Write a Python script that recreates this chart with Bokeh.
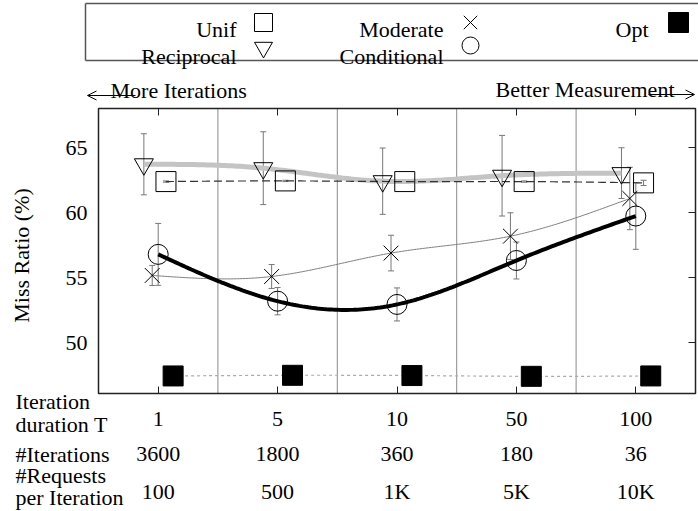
import numpy as np
from bokeh.plotting import figure
from bokeh.models import (Range1d, FixedTicker, LinearAxis, Label, Arrow, OpenHead,
                          Whisker, TeeHead, ColumnDataSource)
from bokeh.embed import file_html
from bokeh.resources import INLINE

# ---------------- data ----------------
x_pos = [1, 2, 3, 4, 5]
t_labels = ["1", "5", "10", "50", "100"]
iter_labels = ["3600", "1800", "360", "180", "36"]
req_labels = ["100", "500", "1K", "5K", "10K"]
y_ticks = [50, 55, 60, 65]

unif = [62.40, 62.45, 62.40, 62.40, 62.30]
unif_err = [0.05, 0.05, 0.05, 0.05, 0.20]
recip = [63.73, 63.43, 62.43, 62.85, 63.05]
recip_err = [2.35, 2.80, 2.55, 3.10, 1.95]
moder = [55.18, 55.10, 56.90, 58.20, 61.10]
moder_err = [0.77, 0.92, 1.37, 1.80, 2.40]
cond = [56.80, 53.20, 52.95, 56.33, 59.75]
cond_err = [2.38, 1.05, 1.27, 1.42, 2.56]
opt = [47.45, 47.50, 47.48, 47.42, 47.45]
opt_err = [0.05, 0.05, 0.05, 0.05, 0.05]

FONT = "Liberation Serif"
FS = "22px"

# plot-box extent in data units and its place on the page (pixels)
X0, X1 = 0.5, 5.5
Y0, Y1 = 46.1, 68.02
BOX_L, BOX_R, BOX_T, BOX_B = 98, 695, 108, 393
W, H = 698, 510            # canvas, placed at page (0, 0)
XPP = (X1 - X0) / (BOX_R - BOX_L)
YPP = (Y1 - Y0) / (BOX_B - BOX_T)


def gx(px):
    return X0 + (px - BOX_L) * XPP


def gy(py):
    return Y1 - (py - BOX_T) * YPP


def nat_spline(x, y, n=160):
    x = np.asarray(x, float)
    y = np.asarray(y, float)
    k = len(x)
    h = np.diff(x)
    A = np.zeros((k, k))
    b = np.zeros(k)
    A[0, 0] = A[-1, -1] = 1
    for i in range(1, k - 1):
        A[i, i - 1] = h[i - 1]
        A[i, i] = 2 * (h[i - 1] + h[i])
        A[i, i + 1] = h[i]
        b[i] = 6 * ((y[i + 1] - y[i]) / h[i] - (y[i] - y[i - 1]) / h[i - 1])
    M = np.linalg.solve(A, b)
    xs = np.linspace(x[0], x[-1], n)
    idx = np.clip(np.searchsorted(x, xs) - 1, 0, k - 2)
    x0 = x[idx]
    x1 = x[idx + 1]
    hh = x1 - x0
    t0 = x1 - xs
    t1 = xs - x0
    ys = (M[idx] * t0 ** 3 / (6 * hh) + M[idx + 1] * t1 ** 3 / (6 * hh)
          + (y[idx] / hh - M[idx] * hh / 6) * t0
          + (y[idx + 1] / hh - M[idx + 1] * hh / 6) * t1)
    return xs, ys


p = figure(width=W, height=H,
           x_range=Range1d(gx(0), gx(W)), y_range=Range1d(gy(H), gy(0)),
           min_border=0, toolbar_location=None, output_backend="svg",
           x_axis_location=None, y_axis_location=None)
p.outline_line_color = None
p.grid.visible = False

# ---------------- axes (fixed on the plot box) ----------------
bottom_ax = LinearAxis(fixed_location=Y0, ticker=FixedTicker(ticks=x_pos),
                       major_label_overrides={x: t for x, t in zip(x_pos, t_labels)},
                       axis_line_color=None, major_tick_in=7, major_tick_out=0,
                       minor_tick_line_color=None, major_tick_line_color="#222222",
                       major_label_text_font=FONT, major_label_text_font_size=FS,
                       major_label_text_color="black", major_label_standoff=18)
p.add_layout(bottom_ax, "below")

left_ax = LinearAxis(fixed_location=X0, ticker=FixedTicker(ticks=y_ticks),
                     axis_line_color=None, major_tick_in=0, major_tick_out=0,
                     minor_tick_line_color=None,
                     major_label_text_font=FONT, major_label_text_font_size=FS,
                     major_label_text_color="black", major_label_standoff=11,
                     axis_label="Miss Ratio (%)", axis_label_text_font=FONT,
                     axis_label_text_font_size=FS, axis_label_text_font_style="normal",
                     axis_label_text_color="black", axis_label_standoff=29)
p.add_layout(left_ax, "left")

top_ax = LinearAxis(fixed_location=Y1, ticker=FixedTicker(ticks=x_pos),
                    major_label_text_color=None, major_label_standoff=0,
                    major_tick_in=7, major_tick_out=0, minor_tick_line_color=None,
                    axis_line_color=None, major_tick_line_color="#222222")
p.add_layout(top_ax, "above")

right_ax = LinearAxis(fixed_location=X1, ticker=FixedTicker(ticks=y_ticks),
                      major_label_text_color=None, major_label_standoff=0,
                      major_tick_in=7, major_tick_out=0, minor_tick_line_color=None,
                      axis_line_color=None, major_tick_line_color="#222222")
p.add_layout(right_ax, "right")

# vertical separators between categories
mids = [(a + b) / 2 for a, b in zip(x_pos[:-1], x_pos[1:])]
p.segment(x0=mids, y0=[Y0] * len(mids), x1=mids, y1=[Y1] * len(mids),
          line_color="#8a8a8a", line_width=1)

# ---------------- series ----------------
styles = [
    # values, errors, x offset, marker, fill, size, line colour, width, dash
    (recip, recip_err, -0.12, "inverted_triangle", None, 19, "#c4c4c4", 5, "solid"),
    (unif, unif_err, 0.065, "square", None, 20, "#333333", 1.2, "8 4"),
    (moder, moder_err, -0.05, "x", None, 21, "#808080", 1, "solid"),
    (cond, cond_err, 0.0, "circle", None, 20, "#000000", 4, "solid"),
    (opt, opt_err, 0.125, "square", "black", 20, "#aaaaaa", 1.2, "3 3"),
]

for vals, errs, off, mk, fc, ms, lc, lw, dash in styles:
    xs = np.array(x_pos, float) + off
    sx, sy = nat_spline(xs, vals)
    p.line(sx, sy, line_color=lc, line_width=lw, line_dash=dash)

for vals, errs, off, mk, fc, ms, lc, lw, dash in styles:
    xs = np.array(x_pos, float) + off
    v = np.array(vals)
    e = np.array(errs)
    src = ColumnDataSource(dict(x=xs, lower=v - e, upper=v + e))
    p.add_layout(Whisker(source=src, base="x", lower="lower", upper="upper",
                         dimension="height", line_color="#777777", line_width=1,
                         upper_head=TeeHead(size=6, line_color="#777777", line_width=1),
                         lower_head=TeeHead(size=6, line_color="#777777", line_width=1)))
    p.scatter(xs, vals, marker=mk, size=ms, fill_color=fc, line_color="black",
              line_width=1)

# plot box
p.quad(left=[X0], right=[X1], bottom=[Y0], top=[Y1], fill_color=None,
       line_color="#222222", line_width=1.5)

# ---------------- legend (above the box) ----------------
p.multi_line(xs=[[gx(85), gx(698)], [gx(85), gx(698)], [gx(85), gx(85)]],
             ys=[[gy(3), gy(3)], [gy(60), gy(60)], [gy(3), gy(60)]],
             line_color="#555555", line_width=1.5)

series_names = ["Unif", "Reciprocal", "Moderate", "Conditional", "Opt"]
markers = ["square", "inverted_triangle", "x", "circle", "square"]
fills = [None, None, None, None, "black"]
text_right = [236, 236, 443, 443, 648]
mark_x = [263, 263, 470, 470, 678]
text_base = [29, 56, 29, 56, 29]
mark_y = [22, 47, 22, 45, 22]
mark_size = [18, 18, 19, 17, 20]

for name, mk, fc, trx, mx, tb, my, ms in zip(series_names, markers, fills, text_right,
                                              mark_x, text_base, mark_y, mark_size):
    p.add_layout(Label(x=gx(trx), y=gy(tb), text=name, text_align="right",
                       text_baseline="alphabetic", text_font=FONT, text_font_size=FS,
                       text_color="black"))
    p.scatter([gx(mx)], [gy(my)], marker=mk, size=ms, fill_color=fc,
              line_color="black", line_width=1)

# direction hints
p.add_layout(Label(x=gx(110), y=gy(90), text="More Iterations", text_align="left",
                   text_baseline="alphabetic", text_font=FONT, text_font_size=FS,
                   text_color="black"))
p.add_layout(Label(x=gx(674), y=gy(89), text="Better Measurement", text_align="right",
                   text_baseline="alphabetic", text_font=FONT, text_font_size=FS,
                   text_color="black"))
p.add_layout(Arrow(end=OpenHead(size=9, line_width=1), x_start=gx(135), y_start=gy(95),
                   x_end=gx(87), y_end=gy(95), line_width=1, line_color="black"))
p.add_layout(Arrow(end=OpenHead(size=9, line_width=1), x_start=gx(648), y_start=gy(94),
                   x_end=gx(694), y_end=gy(94), line_width=1, line_color="black"))

# ---------------- rows under the box ----------------
for txt, pyb in [("Iteration", 401), ("duration T", 424), ("#Iterations", 454),
                 ("#Requests", 475), ("per Iteration", 497)]:
    p.add_layout(Label(x=gx(15), y=gy(pyb), text=txt, text_align="left",
                       text_baseline="alphabetic", text_font=FONT, text_font_size=FS,
                       text_color="black"))
for row, pyb in [(iter_labels, 453), (req_labels, 491)]:
    for x, t in zip(x_pos, row):
        p.add_layout(Label(x=x, y=gy(pyb), text=t, text_align="center",
                           text_baseline="alphabetic", text_font=FONT,
                           text_font_size=FS, text_color="black"))

open("out.html", "w").write(file_html(p, INLINE))
